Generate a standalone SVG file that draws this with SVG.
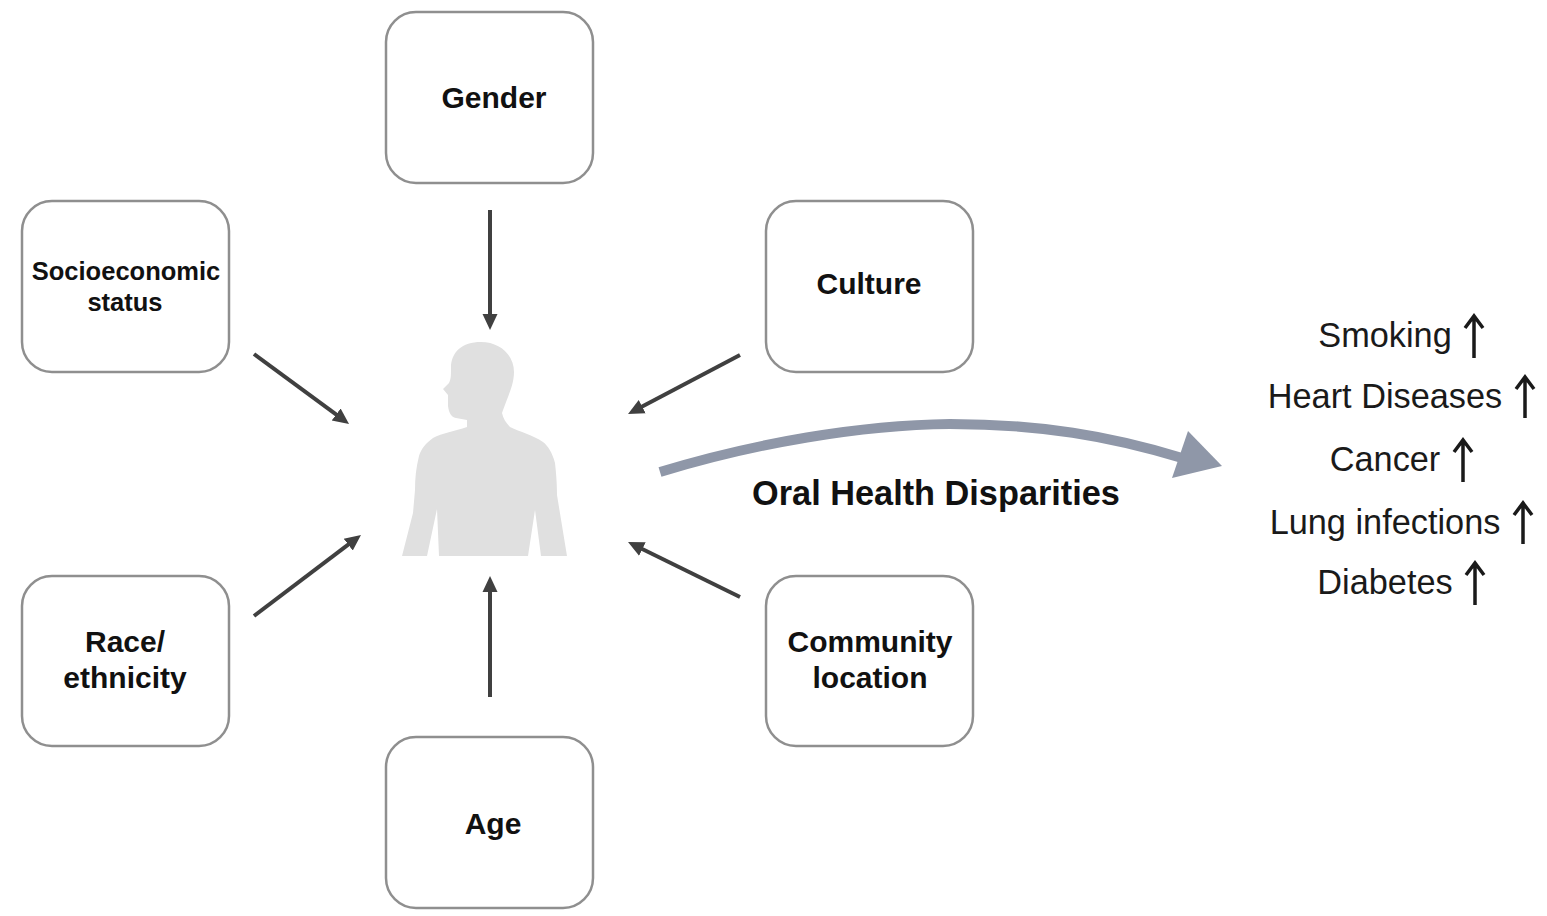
<svg xmlns="http://www.w3.org/2000/svg" width="1547" height="916" viewBox="0 0 1547 916">
<style>
.box{fill:#fff;stroke:#8f8f8f;stroke-width:2.5}
.lb{font-family:"Liberation Sans",Arial,sans-serif;font-weight:700;font-size:30px;fill:#111;text-anchor:middle}
.rt{font-family:"Liberation Sans",Arial,sans-serif;font-size:34.3px;fill:#1a1a1a;text-anchor:middle}
.c{stroke:#404040;stroke-width:4;fill:none;marker-end:url(#a)}
.u{stroke:#1a1a1a;stroke-width:3.5;fill:none}
</style>
<defs><marker id="a" markerUnits="userSpaceOnUse" markerWidth="18" markerHeight="18" refX="7" refY="9" orient="auto"><path d="M0 1.5L16 9L0 16.5Z" fill="#404040"/></marker></defs>
<rect width="1547" height="916" fill="#fff"/>
<g id="person"><path fill="#e0e0e0" d="M481 342C462 342 451 352 451 368C451 376 451 379 449 383L443 389L448 395L448 406C449 413 451 417 456 418L467 420L467 427C455 431 442 433 433 438C426 443 421 449 419 456C416 468 415 478 415 490L413 513L402 556L427 556L437 509L439 556L528 556L535 510L541 556L567 556L557 495C557 482 556 472 555 463C552 452 548 446 543 442C533 435 520 432 510 427C506 423 503 418 502 413C504 407 506 402 508 397C511 389 514 381 514 372C514 355 500 342 481 342Z"/></g>
<g id="connectors">
<path class="c" d="M490 210V321"/>
<path class="c" d="M490 697V585"/>
<path class="c" d="M254 354L341.8 418.7"/>
<path class="c" d="M254 616L353.8 540.4"/>
<path class="c" d="M740 355L636 409.8"/>
<path class="c" d="M740 597L636.1 546"/>
<path d="M660 472C755 443 860 425 950 424C1040 424 1110 436 1182 458" fill="none" stroke="#8f97a8" stroke-width="10"/>
<path d="M1188 431L1222 466L1172 478Z" fill="#8f97a8"/>
</g>
<g id="gender"><rect class="box" x="386" y="12" width="207" height="171" rx="30"/><text class="lb" x="494" y="108">Gender</text></g>
<g id="age"><rect class="box" x="386" y="737" width="207" height="171" rx="30"/><text class="lb" x="493" y="834">Age</text></g>
<g id="socioeconomic"><rect class="box" x="22" y="201" width="207" height="171" rx="30"/><text class="lb" x="126" y="280" style="font-size:25.5px">Socioeconomic</text><text class="lb" x="125" y="311" style="font-size:25.5px">status</text></g>
<g id="culture"><rect class="box" x="766" y="201" width="207" height="171" rx="30"/><text class="lb" x="869" y="294">Culture</text></g>
<g id="race"><rect class="box" x="22" y="576" width="207" height="170" rx="30"/><text class="lb" x="125" y="652">Race/</text><text class="lb" x="125" y="688">ethnicity</text></g>
<g id="community"><rect class="box" x="766" y="576" width="207" height="170" rx="30"/><text class="lb" x="870" y="652">Community</text><text class="lb" x="870" y="688">location</text></g>
<g id="label"><text class="lb" x="936" y="505" style="font-size:34.3px">Oral Health Disparities</text></g>
<g id="outcomes">
<text class="rt" x="1385" y="347">Smoking</text><path class="u" d="M1474 358V316M1465 328L1474 316L1483 328"/>
<text class="rt" x="1385" y="408">Heart Diseases</text><path class="u" d="M1525 418V377M1516 389L1525 377L1534 389"/>
<text class="rt" x="1385" y="471">Cancer</text><path class="u" d="M1463 482V440M1454 452L1463 440L1472 452"/>
<text class="rt" x="1385" y="534">Lung infections</text><path class="u" d="M1523 544V503M1514 515L1523 503L1532 515"/>
<text class="rt" x="1385" y="594">Diabetes</text><path class="u" d="M1475 605V563M1466 575L1475 563L1484 575"/>
</g>
</svg>
